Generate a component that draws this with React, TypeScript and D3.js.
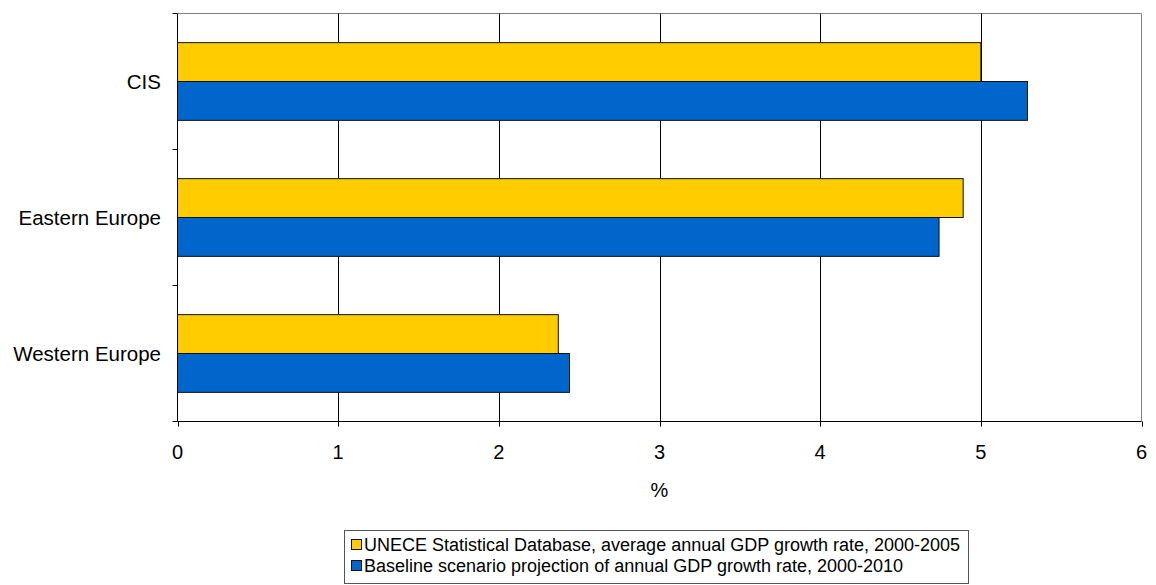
import React from "react";
import * as d3 from "d3";

const categories = ["CIS", "Eastern Europe", "Western Europe"];
const seriesNames = [
  "UNECE Statistical Database, average annual GDP growth rate, 2000-2005",
  "Baseline scenario projection of annual GDP growth rate, 2000-2010",
];
const unece = [5.0, 4.89, 2.37];
const baseline = [5.29, 4.74, 2.44];
const xTicks = [0, 1, 2, 3, 4, 5, 6];
const colors = ["#FFCC00", "#0066CC"];

const W = 1156;
const H = 585;
const left = 177.5;
const right = 1141.5;
const top = 13.5;
const bottom = 421.5;
const FONT = "'Liberation Sans', Arial, sans-serif";

export default function App() {
  const x = d3.scaleLinear().domain([0, 6]).range([left, right]);
  const y = d3.scaleBand().domain(categories).range([top, bottom]).paddingInner(0).paddingOuter(0);
  const bw = y.bandwidth();
  const gap = bw * (0.75 / 3.5);
  const barH = (bw - 2 * gap) / 2;
  const series = [unece, baseline];
  const boundaries = [top, ...categories.map((c) => (y(c) as number) + bw)];

  return (
    <svg width={W} height={H} style={{ position: "absolute", left: 0, top: 0, background: "#fff" }}>
      <line x1={left} y1={top} x2={right} y2={top} stroke="#808080" strokeWidth={1} />
      <line x1={right} y1={top} x2={right} y2={bottom} stroke="#808080" strokeWidth={1} />
      {xTicks.slice(1, -1).map((t) => (
        <line key={"g" + t} x1={Math.round(x(t)) + 0.5} x2={Math.round(x(t)) + 0.5} y1={top} y2={bottom} stroke="#000" strokeWidth={1} />
      ))}
      {categories.map((c, i) =>
        series.map((s, k) => {
          const y0 = (y(c) as number) + gap + k * barH;
          return (
            <rect
              key={c + k}
              x={x(0)}
              y={y0}
              width={x(s[i]) - x(0)}
              height={barH}
              fill={colors[k]}
              stroke="#111"
              strokeWidth={1}
            />
          );
        })
      )}
      <line x1={left} y1={top} x2={left} y2={bottom} stroke="#000" strokeWidth={1} />
      <line x1={left} y1={bottom} x2={right} y2={bottom} stroke="#000" strokeWidth={1} />
      {boundaries.map((b, i) => (
        <line key={"yt" + i} x1={left - 5} x2={left} y1={b} y2={b} stroke="#000" strokeWidth={1} />
      ))}
      {xTicks.map((t) => (
        <g key={"xt" + t}>
          <line x1={Math.round(x(t)) + 0.5} x2={Math.round(x(t)) + 0.5} y1={bottom} y2={bottom + 5} stroke="#000" strokeWidth={1} />
          <text x={x(t)} y={452} textAnchor="middle" dominantBaseline="central" fontFamily={FONT} fontSize={20} fill="#000">
            {t}
          </text>
        </g>
      ))}
      {categories.map((c) => (
        <text
          key={"cl" + c}
          x={161}
          y={(y(c) as number) + bw / 2}
          textAnchor="end"
          dominantBaseline="central"
          fontFamily={FONT}
          fontSize={20.5}
          fill="#000"
        >
          {c}
        </text>
      ))}
      <text x={(left + right) / 2} y={490} textAnchor="middle" dominantBaseline="central" fontFamily={FONT} fontSize={20} fill="#000">
        %
      </text>
      <rect x={344.5} y={530.5} width={624} height={53} fill="#fff" stroke="#555" strokeWidth={1} />
      {seriesNames.map((n, k) => (
        <g key={"lg" + k}>
          <rect x={351.5} y={539.5 + k * 21} width={10} height={10} fill={colors[k]} stroke="#111" strokeWidth={1} />
          <text x={364} y={545 + k * 21} dominantBaseline="central" fontFamily={FONT} fontSize={18} fill="#000">
            {n}
          </text>
        </g>
      ))}
    </svg>
  );
}
